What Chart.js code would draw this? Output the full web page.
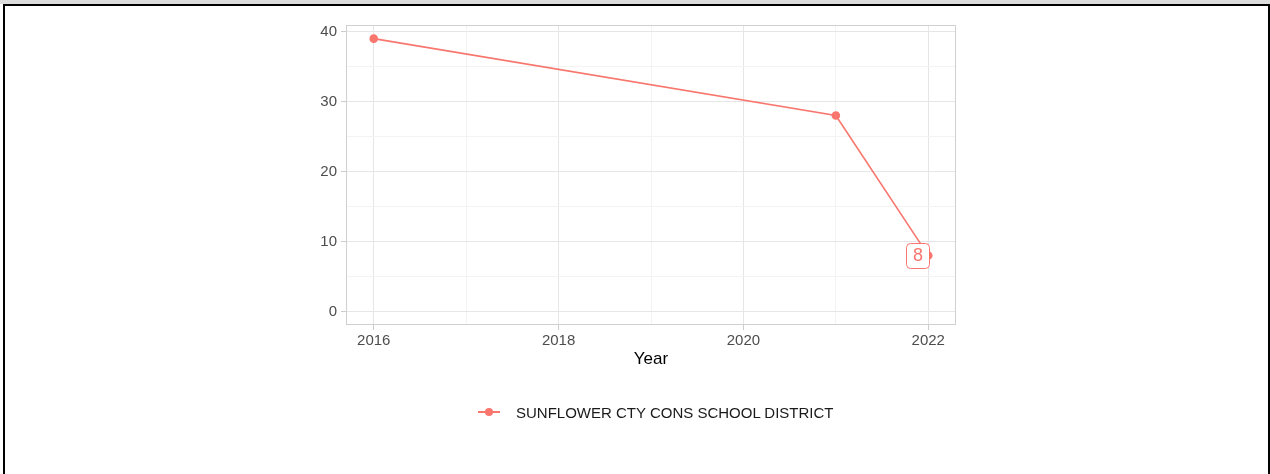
<!DOCTYPE html>
<html>
<head>
<meta charset="utf-8">
<script src="https://cdn.jsdelivr.net/npm/chart.js@4/dist/chart.umd.min.js"></script>
<style>
    html, body { margin: 0; padding: 0; background: #fff; }
    body { width: 1270px; height: 474px; position: relative; overflow: hidden; font-family: "Liberation Sans", Arial, sans-serif; }
    .top-band { position: absolute; left: 0; top: 0; width: 1270px; height: 4px; background: #dcdcdc; }
    .frame { position: absolute; left: 3px; top: 4px; width: 1263px; height: 480px; border: 2px solid #000; border-bottom: none; }
    #chartWrap { position: absolute; left: 0; top: 0; width: 1270px; height: 474px; }
    .legend { position: absolute; left: 478px; top: 402px; height: 20px; display: flex; align-items: center; font-size: 15px; color: #1a1a1a; }
    .legend .sym { position: relative; width: 22px; height: 20px; margin-right: 16px; }
    .legend .sym .ln { position: absolute; left: 0; top: 9px; width: 22px; height: 2px; background: #F8766D; }
    .legend .sym .dt { position: absolute; left: 7px; top: 6px; width: 8px; height: 8px; border-radius: 50%; background: #F8766D; }
</style>
</head>
<body>
<div class="top-band"></div>
<div class="frame"></div>
<div id="chartWrap"><canvas id="chart" width="1270" height="474"></canvas></div>
<div class="legend"><span class="sym"><span class="ln"></span><span class="dt"></span></span><span id="legendText"></span></div>
<script>
// Data
const seriesName = 'SUNFLOWER CTY CONS SCHOOL DISTRICT';
const years = [2016, 2021, 2022];
const values = [39, 28, 8];

// Axis ticks
const xTicks = [2016, 2018, 2020, 2022];
const xMinor = [2017, 2019, 2021];
const yTicks = [0, 10, 20, 30, 40];
const yMinor = [5, 15, 25, 35];

const lineColor = '#F8766D';
const majorGrid = '#e6e6e6';
const minorGrid = '#f3f3f3';

document.getElementById('legendText').textContent = seriesName;

function setTicks(major, minor) {
    return scale => {
        scale.ticks = major.concat(minor).sort((a, b) => a - b).map(v => ({ value: v }));
    };
}

// Panel border + value label on the last point
const panelPlugin = {
    id: 'panel',
    afterDraw(chart) {
        const { ctx, chartArea: a } = chart;
        ctx.save();
        ctx.strokeStyle = '#d0d0d0';
        ctx.lineWidth = 1;
        ctx.strokeRect(a.left + 0.5, a.top + 0.5, a.right - a.left - 1, a.bottom - a.top - 1);

        // label for the last value
        const pt = chart.getDatasetMeta(0).data[values.length - 1];
        const w = 23, h = 25;
        const x0 = Math.round(pt.x - w + 1), y0 = Math.round(pt.y - h / 2);
        ctx.beginPath();
        ctx.roundRect(x0 + 0.5, y0 + 0.5, w, h, 4);
        ctx.fillStyle = '#fff';
        ctx.fill();
        ctx.strokeStyle = lineColor;
        ctx.stroke();
        ctx.fillStyle = lineColor;
        ctx.font = '18px "Liberation Sans", Arial, sans-serif';
        ctx.textAlign = 'center';
        ctx.textBaseline = 'middle';
        ctx.fillText(String(values[values.length - 1]), x0 + w / 2 + 0.5, pt.y + 1);
        ctx.restore();
    }
};

const tickFont = { family: '"Liberation Sans", Arial, sans-serif', size: 15 };

new Chart(document.getElementById('chart'), {
    type: 'line',
    data: {
        datasets: [{
            label: seriesName,
            data: years.map((y, i) => ({ x: y, y: values[i] })),
            borderColor: lineColor,
            backgroundColor: lineColor,
            borderWidth: 1.6,
            pointRadius: 3.5,
            pointHoverRadius: 3.5,
            tension: 0
        }]
    },
    options: {
        responsive: false,
        animation: false,
        devicePixelRatio: 1,
        layout: { padding: { left: 306, right: 314, top: 25, bottom: 104 } },
        plugins: {
            legend: { display: false },
            tooltip: { enabled: false }
        },
        scales: {
            x: {
                type: 'linear',
                min: 2015.7,
                max: 2022.3,
                afterBuildTicks: setTicks(xTicks, xMinor),
                afterFit: scale => { scale.height = 45; },
                grid: {
                    color: ctx => xTicks.includes(ctx.tick.value) ? majorGrid : minorGrid,
                    tickColor: ctx => xTicks.includes(ctx.tick.value) ? '#cccccc' : 'rgba(0,0,0,0)',
                    tickLength: 5
                },
                border: { display: false },
                ticks: {
                    autoSkip: false,
                    maxRotation: 0,
                    padding: 2,
                    color: '#4d4d4d',
                    font: tickFont,
                    callback: v => xTicks.includes(v) ? String(v) : ''
                },
                title: {
                    display: true,
                    text: 'Year',
                    color: '#000',
                    font: { family: '"Liberation Sans", Arial, sans-serif', size: 17 },
                    padding: 0
                }
            },
            y: {
                min: -1.95,
                max: 40.95,
                afterBuildTicks: setTicks(yTicks, yMinor),
                afterFit: scale => { scale.width = 40; },
                grid: {
                    color: ctx => yTicks.includes(ctx.tick.value) ? majorGrid : minorGrid,
                    tickColor: ctx => yTicks.includes(ctx.tick.value) ? '#cccccc' : 'rgba(0,0,0,0)',
                    tickLength: 5
                },
                border: { display: false },
                ticks: {
                    autoSkip: false,
                    padding: 4,
                    color: '#4d4d4d',
                    font: tickFont,
                    callback: v => yTicks.includes(v) ? String(v) : ''
                }
            }
        }
    },
    plugins: [panelPlugin]
});
</script>
</body>
</html>
